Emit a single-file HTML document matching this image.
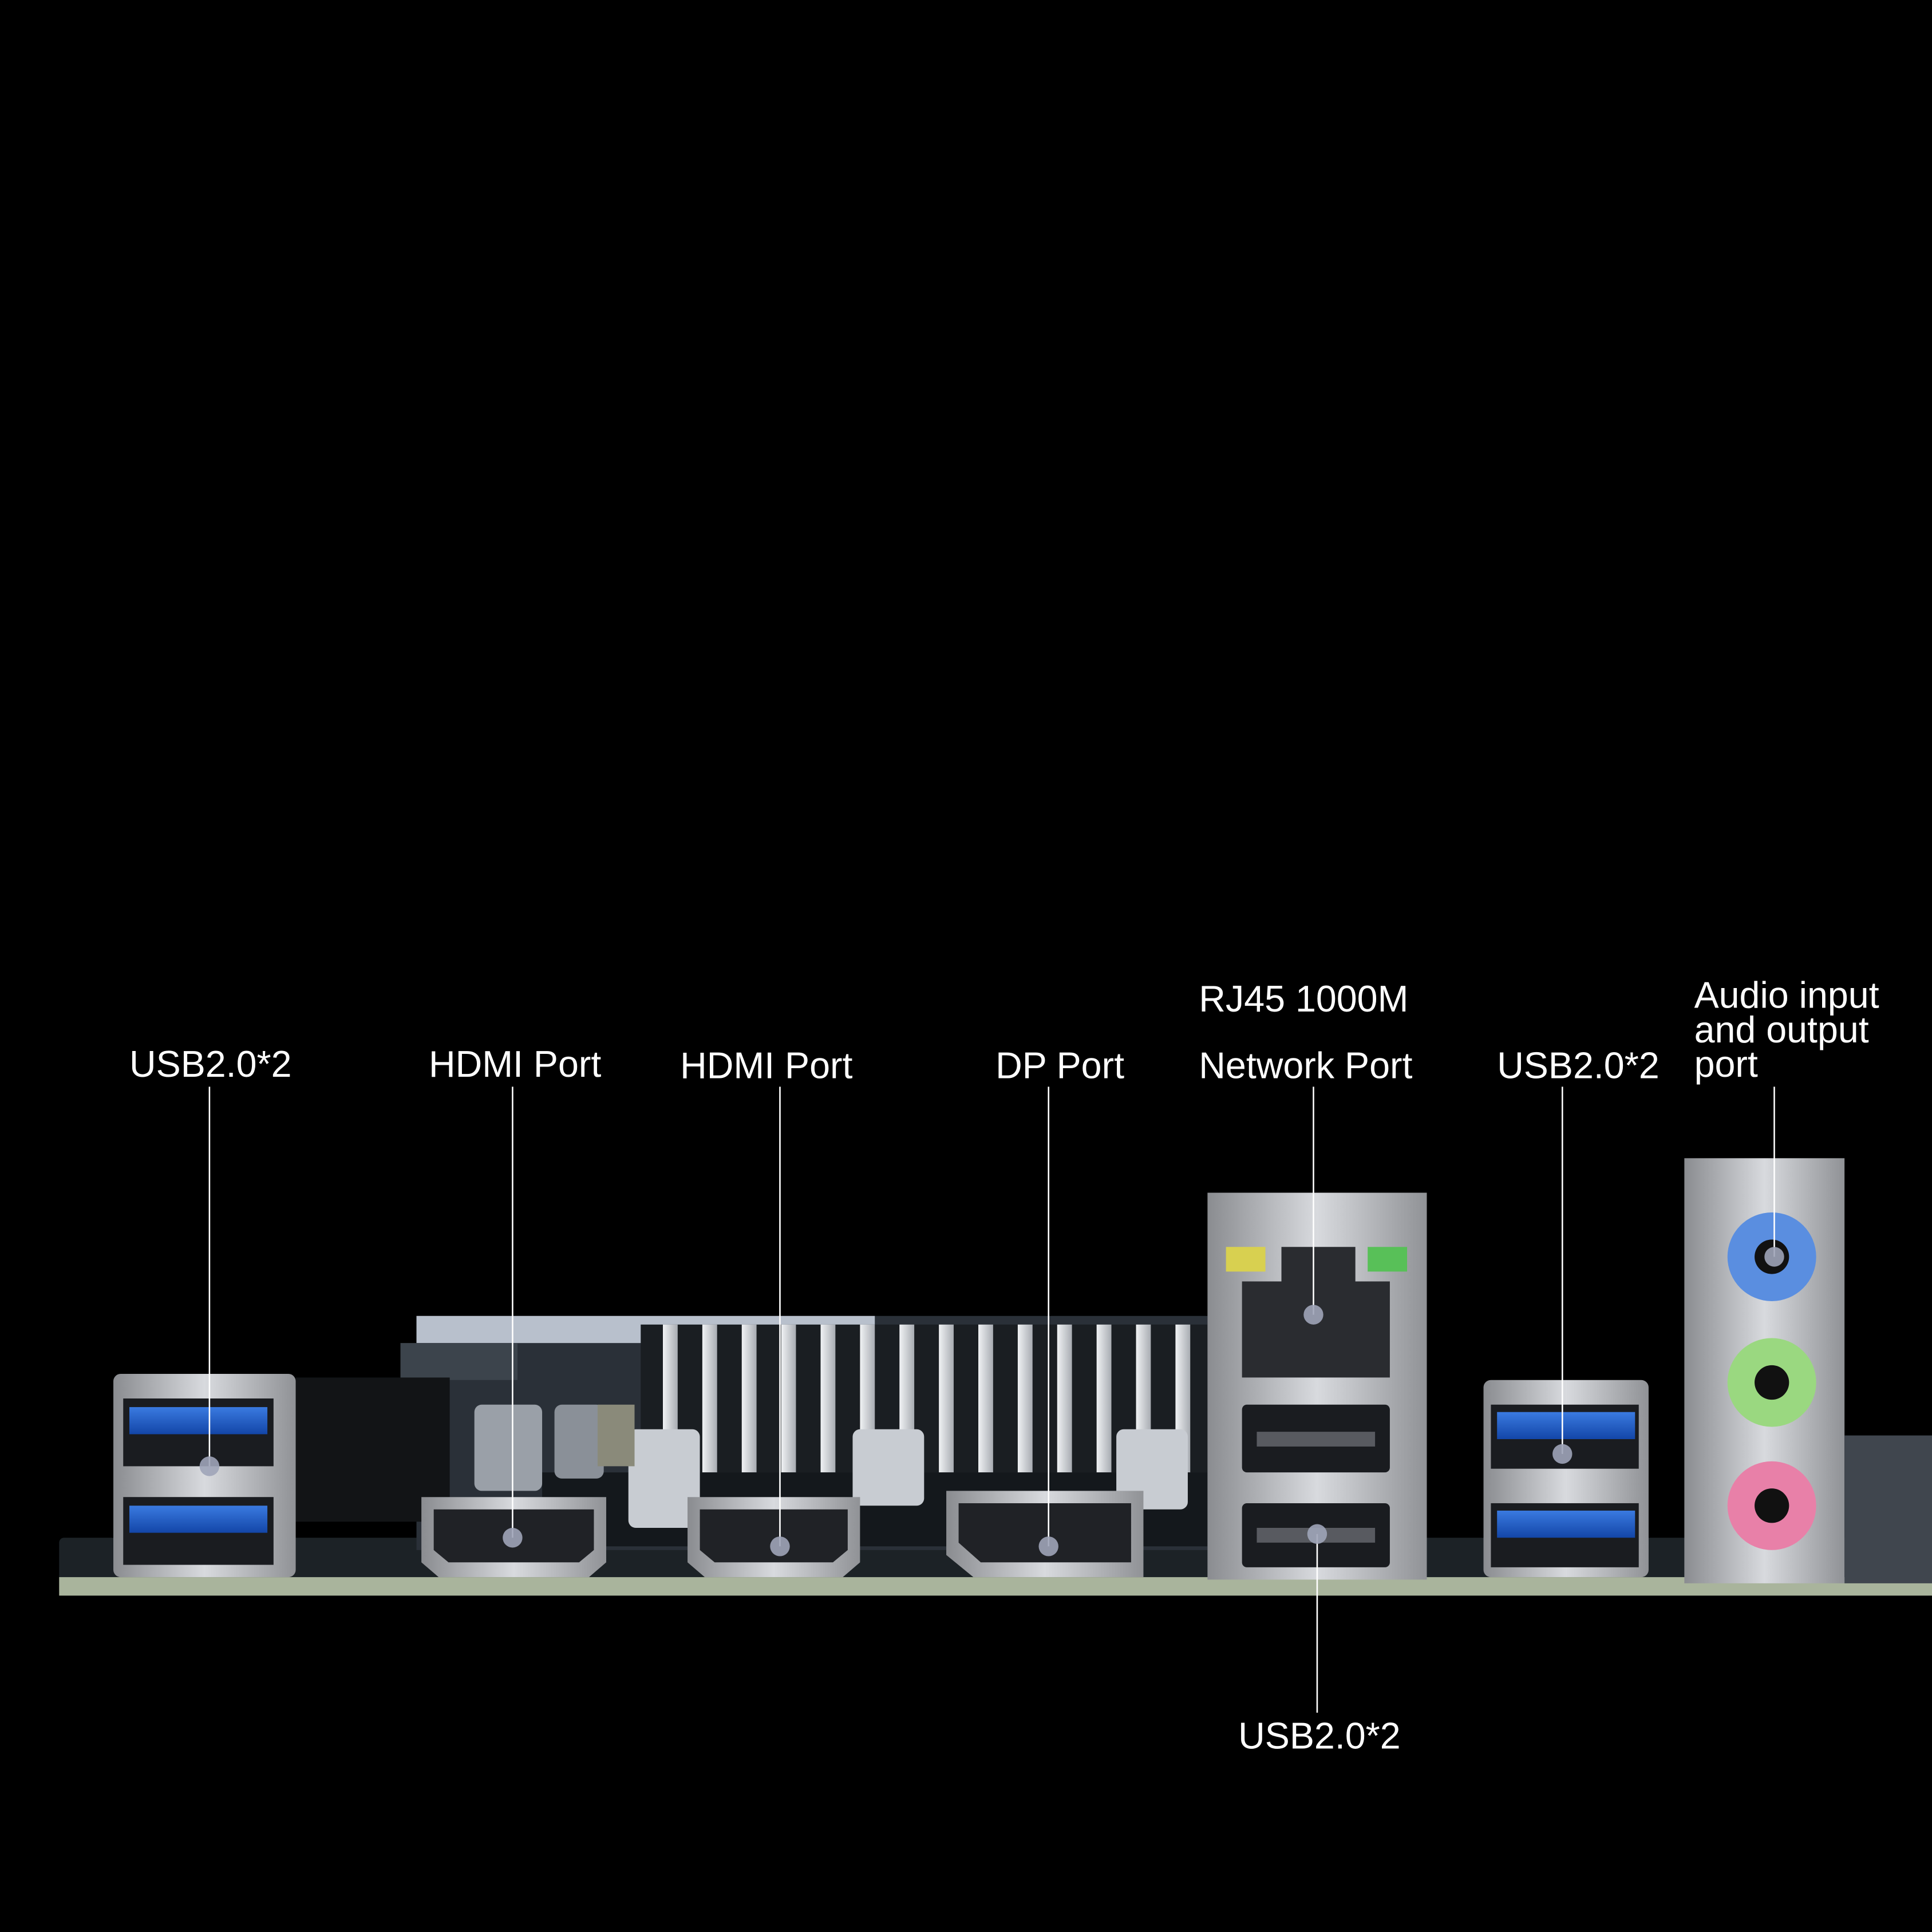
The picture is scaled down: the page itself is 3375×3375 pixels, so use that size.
<!DOCTYPE html>
<html><head><meta charset="utf-8"><style>
html,body{margin:0;padding:0;background:#000;}
svg{display:block}
text{font-family:"Liberation Sans",sans-serif;fill:#fff;font-size:30px;}
</style></head><body>
<svg width="3375" height="3375" viewBox="0 0 1568 1568" xmlns="http://www.w3.org/2000/svg">
<defs>
<linearGradient id="silver" x1="0" y1="0" x2="1" y2="0">
<stop offset="0" stop-color="#8a8c90"/><stop offset="0.5" stop-color="#d8dade"/><stop offset="1" stop-color="#909296"/></linearGradient>
<linearGradient id="fin" x1="0" y1="0" x2="1" y2="0">
<stop offset="0" stop-color="#f0f2f4"/><stop offset="1" stop-color="#a8acb2"/></linearGradient>
<linearGradient id="blue" x1="0" y1="0" x2="0" y2="1">
<stop offset="0" stop-color="#3a7ae0"/><stop offset="1" stop-color="#1346a8"/></linearGradient>
</defs>
<rect width="1568" height="1568" fill="#000"/>
<!-- board -->
<rect x="48" y="1248" width="1520" height="47" rx="4" fill="#1c2226"/>
<rect x="48" y="1280" width="1520" height="15" fill="#a9b49c"/>
<!-- back dark area and heatsink -->
<rect x="338" y="1068" width="642" height="190" fill="#2a3038"/>
<rect x="338" y="1068" width="372" height="22" fill="#b8c0cc"/>
<rect x="325" y="1090" width="95" height="30" fill="#3c444c"/>
<rect x="520" y="1075" width="460" height="120" fill="#1a1e22"/>
<g fill="url(#fin)">
<rect x="538" y="1075" width="12" height="120"/><rect x="570" y="1075" width="12" height="120"/>
<rect x="602" y="1075" width="12" height="120"/><rect x="634" y="1075" width="12" height="120"/>
<rect x="666" y="1075" width="12" height="120"/><rect x="698" y="1075" width="12" height="120"/>
<rect x="730" y="1075" width="12" height="120"/><rect x="762" y="1075" width="12" height="120"/>
<rect x="794" y="1075" width="12" height="120"/><rect x="826" y="1075" width="12" height="120"/>
<rect x="858" y="1075" width="12" height="120"/><rect x="890" y="1075" width="12" height="120"/>
<rect x="922" y="1075" width="12" height="120"/><rect x="954" y="1075" width="12" height="120"/>
</g>
<rect x="440" y="1195" width="540" height="60" fill="#14181c"/>
<!-- capacitors -->
<rect x="385" y="1140" width="55" height="70" rx="6" fill="#9aa0a8"/>
<rect x="450" y="1140" width="40" height="60" rx="6" fill="#8a9098"/>
<rect x="510" y="1160" width="58" height="80" rx="6" fill="#c8ccd2"/>
<rect x="692" y="1160" width="58" height="62" rx="6" fill="#c8ccd2"/>
<rect x="906" y="1160" width="58" height="65" rx="6" fill="#c8ccd2"/>
<rect x="485" y="1140" width="30" height="50" fill="#8a8a7a"/>
<!-- left USB -->
<rect x="240" y="1118" width="125" height="117" fill="#121416"/>
<rect x="92" y="1115" width="148" height="165" rx="6" fill="url(#silver)"/>
<rect x="100" y="1135" width="122" height="55" fill="#1a1c20"/>
<rect x="105" y="1142" width="112" height="22" fill="url(#blue)"/>
<rect x="100" y="1215" width="122" height="55" fill="#1a1c20"/>
<rect x="105" y="1222" width="112" height="22" fill="url(#blue)"/>
<!-- HDMI / DP -->
<g fill="url(#silver)">
<path d="M342 1215 H492 V1268 L478 1280 H356 L342 1268Z"/>
<path d="M558 1215 H698 V1268 L684 1280 H572 L558 1268Z"/>
<path d="M768 1210 H928 V1280 H790 L768 1262Z"/>
</g>
<g fill="#202226">
<path d="M352 1225 H482 V1258 L470 1268 H364 L352 1258Z"/>
<path d="M568 1225 H688 V1258 L676 1268 H580 L568 1258Z"/>
<path d="M778 1220 H918 V1268 H796 L778 1252Z"/>
</g>
<!-- RJ45 block -->
<rect x="980" y="968" width="178" height="314" fill="url(#silver)"/>
<rect x="995" y="1012" width="32" height="20" fill="#d8d050"/>
<rect x="1110" y="1012" width="32" height="20" fill="#58c058"/>
<path d="M1008 1040 H1040 V1012 H1100 V1040 H1128 V1118 H1008Z" fill="#2a2c30"/>
<rect x="1008" y="1140" width="120" height="55" rx="4" fill="#1a1c20"/>
<rect x="1020" y="1162" width="96" height="12" fill="#585a60"/>
<rect x="1008" y="1220" width="120" height="52" rx="4" fill="#1a1c20"/>
<rect x="1020" y="1240" width="96" height="12" fill="#585a60"/>
<!-- right USB -->
<rect x="1204" y="1120" width="134" height="160" rx="6" fill="url(#silver)"/>
<rect x="1210" y="1140" width="120" height="52" fill="#1a1c20"/>
<rect x="1215" y="1146" width="112" height="22" fill="url(#blue)"/>
<rect x="1210" y="1220" width="120" height="52" fill="#1a1c20"/>
<rect x="1215" y="1226" width="112" height="22" fill="url(#blue)"/>
<!-- audio -->
<rect x="1367" y="940" width="130" height="345" fill="url(#silver)"/>
<circle cx="1438" cy="1020" r="36" fill="#5a8ee0"/><circle cx="1438" cy="1020" r="14" fill="#111"/>
<circle cx="1438" cy="1122" r="36" fill="#9ad880"/><circle cx="1438" cy="1122" r="14" fill="#111"/>
<circle cx="1438" cy="1222" r="36" fill="#e880a8"/><circle cx="1438" cy="1222" r="14" fill="#111"/>
<rect x="1497" y="1165" width="71" height="120" fill="#40464e"/>
<!-- leader lines -->
<g stroke="#fff" stroke-width="1.2">
<line x1="170" y1="882" x2="170" y2="1190"/>
<line x1="416" y1="882" x2="416" y2="1248"/>
<line x1="633" y1="882" x2="633" y2="1255"/>
<line x1="851" y1="882" x2="851" y2="1255"/>
<line x1="1066" y1="882" x2="1066" y2="1067"/>
<line x1="1268" y1="882" x2="1268" y2="1180"/>
<line x1="1440" y1="882" x2="1440" y2="1020"/>
<line x1="1069" y1="1245" x2="1069" y2="1390"/>
</g>
<g fill="#9ea4b8" opacity="0.9">
<circle cx="170" cy="1190" r="8"/><circle cx="416" cy="1248" r="8"/>
<circle cx="633" cy="1255" r="8"/><circle cx="851" cy="1255" r="8"/>
<circle cx="1066" cy="1067" r="8"/><circle cx="1268" cy="1180" r="8"/>
<circle cx="1440" cy="1020" r="8"/><circle cx="1069" cy="1245" r="8"/>
</g>
<!-- labels -->
<text x="105" y="874">USB2.0*2</text>
<text x="348" y="874">HDMI Port</text>
<text x="552" y="875">HDMI Port</text>
<text x="808" y="875">DP Port</text>
<text x="973" y="821">RJ45 1000M</text>
<text x="973" y="875">Network Port</text>
<text x="1215" y="875">USB2.0*2</text>
<text x="1375" y="818">Audio input</text>
<text x="1375" y="846">and output</text>
<text x="1375" y="874">port</text>
<text x="1005" y="1419">USB2.0*2</text>
</svg>
</body></html>
